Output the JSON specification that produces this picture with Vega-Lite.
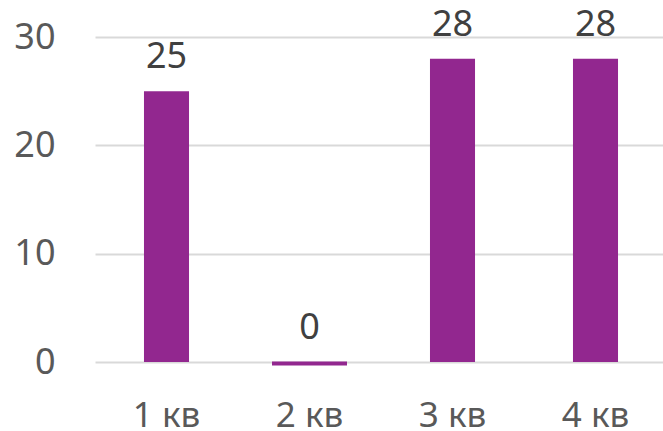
{
  "$schema": "https://vega.github.io/schema/vega-lite/v6.json",
  "width": 572,
  "height": 325,
  "autosize": {"type": "none"},
  "padding": {"left": 95, "top": 37, "right": 0, "bottom": 69},
  "background": "#ffffff",
  "data": {
    "values": [
      {"quarter": "1 кв", "value": 25},
      {"quarter": "2 кв", "value": 0},
      {"quarter": "3 кв", "value": 28},
      {"quarter": "4 кв", "value": 28}
    ]
  },
  "encoding": {
    "x": {
      "field": "quarter",
      "type": "nominal",
      "sort": null,
      "title": null,
      "scale": {"paddingInner": 0, "paddingOuter": 0},
      "axis": {
        "domain": false,
        "ticks": false,
        "labelAngle": 0,
        "labelPadding": 36,
        "labelFontSize": 35,
        "labelColor": "#595959",
        "labelFont": "Noto Sans"
      }
    },
    "y": {
      "field": "value",
      "type": "quantitative",
      "title": null,
      "scale": {"domain": [0, 30], "nice": false},
      "axis": {
        "values": [0, 10, 20, 30],
        "domain": false,
        "ticks": false,
        "labelPadding": 40,
        "labelFontSize": 36,
        "labelColor": "#595959",
        "labelFont": "Noto Sans",
        "gridColor": "#d9d9d9",
        "gridWidth": 2
      }
    }
  },
  "layer": [
    {
      "mark": {"type": "bar", "color": "#92278F", "width": {"band": 0.315}}
    },
    {
      "transform": [{"filter": "datum.value === 0"}],
      "mark": {"type": "tick", "color": "#92278F", "size": 75, "thickness": 4, "opacity": 1, "yOffset": 1.5}
    },
    {
      "mark": {
        "type": "text",
        "baseline": "alphabetic",
        "dy": -23,
        "fontSize": 36,
        "font": "Noto Sans",
        "color": "#404040"
      },
      "encoding": {"text": {"field": "value", "type": "quantitative"}}
    }
  ],
  "config": {"view": {"stroke": null}}
}
